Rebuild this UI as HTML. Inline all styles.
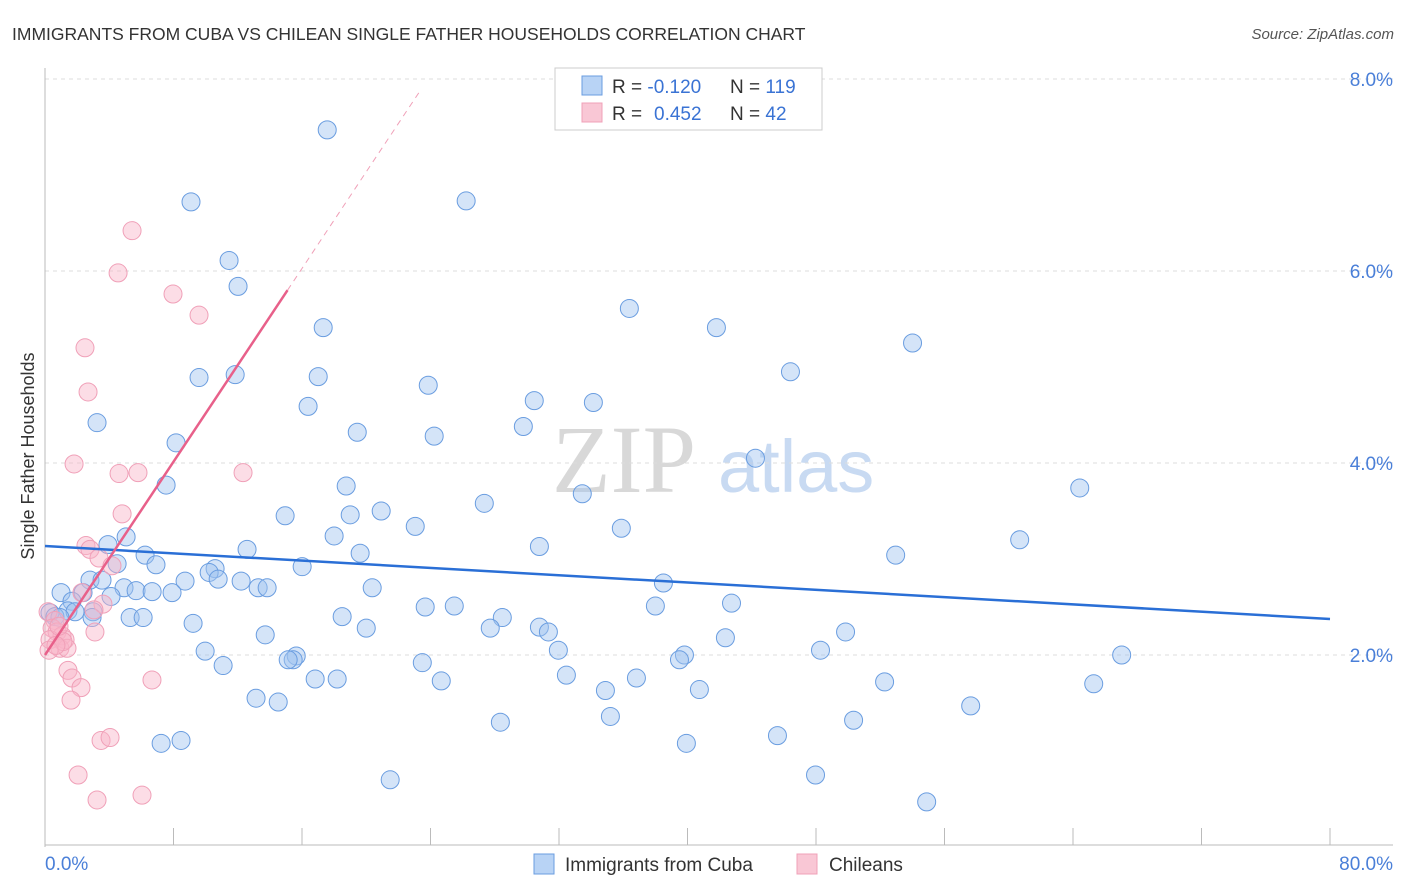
<!DOCTYPE html>
<html><head><meta charset="utf-8"><style>
body{margin:0;background:#fff;font-family:"Liberation Sans",sans-serif;}
svg{display:block}
</style></head><body>
<svg id="chart" width="1406" height="892" viewBox="0 0 1406 892" xmlns="http://www.w3.org/2000/svg">
<text x="12" y="40" font-size="17.5" fill="#333">IMMIGRANTS FROM CUBA VS CHILEAN SINGLE FATHER HOUSEHOLDS CORRELATION CHART</text>
<text x="1394" y="39" font-size="15" fill="#555" font-style="italic" text-anchor="end">Source: ZipAtlas.com</text>
<text transform="translate(34,456) rotate(-90)" font-size="18" fill="#333" text-anchor="middle">Single Father Households</text>
<g>
<text x="552" y="492" font-size="96" font-family="Liberation Serif,serif" fill="#d8d8d8">ZIP</text>
<text x="718" y="492" font-size="74" fill="#c8daf2">atlas</text>
</g>
<g id="grid"></g>
<g id="axes"></g>
<g id="pts"></g>
<g id="trends"></g>
<g>
<rect x="555" y="68" width="267" height="62" fill="#fff" stroke="#ccc"/>
<rect x="582" y="76" width="20" height="19" fill="#b8d3f5" stroke="#6a9de0"/>
<rect x="582" y="103" width="20" height="19" fill="#f9c7d5" stroke="#f0a0b8"/>
<text x="612" y="93" font-size="19" fill="#333">R = <tspan fill="#3a73d4">-0.120</tspan><tspan x="730">N = </tspan><tspan fill="#3a73d4">119</tspan></text>
<text x="612" y="120" font-size="19" fill="#333">R = <tspan x="654" fill="#3a73d4">0.452</tspan><tspan x="730">N = </tspan><tspan fill="#3a73d4">42</tspan></text>
</g>
<g>
<rect x="534" y="854" width="20" height="20" fill="#b8d3f5" stroke="#6a9de0"/>
<text x="565" y="871" font-size="19" fill="#333">Immigrants from Cuba</text>
<rect x="797" y="854" width="20" height="20" fill="#f9c7d5" stroke="#f0a0b8"/>
<text x="829" y="871" font-size="19" fill="#333">Chileans</text>
</g>
</svg>
<script>
const blueX=[17.57,9.09,26.22,11.46,12.02,36.38,17.32,41.80,54.01,9.59,11.84,17.01,23.86,46.41,16.38,30.46,34.14,3.24,19.44,24.23,29.78,8.16,44.23,7.54,18.75,64.42,33.45,27.35,19.00,20.93,14.95,23.05,35.88,5.05,18.00,60.68,30.78,3.92,12.58,6.23,19.62,52.96,6.91,16.01,4.49,10.59,10.22,2.80,3.55,10.78,12.21,8.72,38.50,13.27,13.83,20.37,4.92,5.67,6.67,7.91,1.00,2.37,4.11,1.68,42.74,23.67,25.48,38.00,1.43,2.99,1.87,0.31,0.62,0.93,2.93,5.30,6.11,18.50,28.47,9.22,27.72,30.78,20.00,31.34,49.84,13.71,42.36,31.96,9.97,39.81,48.28,67.03,15.64,15.45,15.14,39.50,23.49,11.09,32.46,16.82,18.19,24.67,36.82,52.27,65.29,34.89,40.74,13.14,14.52,57.63,35.20,28.35,50.34,45.60,8.47,7.23,39.93,47.97,21.49,54.89];
const blueY=[7.47,6.72,6.73,6.11,5.84,5.61,5.41,5.41,5.25,4.89,4.92,4.90,4.81,4.95,4.59,4.65,4.63,4.42,4.32,4.28,4.38,4.21,4.05,3.77,3.76,3.74,3.68,3.58,3.46,3.50,3.45,3.34,3.32,3.23,3.24,3.20,3.13,3.15,3.10,3.04,3.06,3.04,2.94,2.92,2.95,2.90,2.86,2.78,2.78,2.79,2.77,2.77,2.75,2.70,2.70,2.70,2.70,2.67,2.66,2.65,2.65,2.65,2.61,2.56,2.54,2.50,2.51,2.51,2.46,2.45,2.45,2.44,2.40,2.39,2.39,2.39,2.39,2.40,2.39,2.33,2.28,2.29,2.28,2.24,2.24,2.21,2.18,2.05,2.04,2.00,2.05,2.00,1.99,1.95,1.95,1.95,1.92,1.89,1.79,1.75,1.75,1.73,1.76,1.72,1.70,1.63,1.64,1.55,1.51,1.47,1.36,1.30,1.32,1.16,1.11,1.08,1.08,0.75,0.70,0.47];
const pinkX=[5.42,4.55,7.97,9.59,2.49,2.68,1.81,4.61,5.79,12.33,4.80,2.55,2.80,3.36,4.17,2.30,3.61,3.05,0.19,0.62,0.44,0.75,1.06,1.25,0.31,0.93,1.37,3.11,1.43,1.68,2.24,1.62,6.66,3.49,4.05,2.06,3.24,6.04,1.12,0.87,0.25,0.68];
const pinkY=[6.42,5.98,5.76,5.54,5.20,4.74,3.99,3.89,3.90,3.90,3.47,3.14,3.10,3.01,2.93,2.65,2.53,2.47,2.45,2.36,2.28,2.24,2.20,2.16,2.16,2.07,2.07,2.24,1.84,1.76,1.66,1.53,1.74,1.11,1.14,0.75,0.49,0.54,2.14,2.30,2.05,2.10];
const yTicks=[2,4,6,8];
const yTickLabels=["2.0%","4.0%","6.0%","8.0%"];
const xTickCount=10;
const blueTrend=[3.135,2.375];
const pinkTrend=[2.0,5.8];
const pinkSolidEnd=15.1, pinkDashEnd=23.35;

const NS="http://www.w3.org/2000/svg";
const X0=45,X1=1330,Y0=847;
const sx=v=>X0+(X1-X0)*v/80;
const sy=v=>Y0-96*v;
function mk(tag,attrs,parent){const e=document.createElementNS(NS,tag);for(const k in attrs)e.setAttribute(k,attrs[k]);parent.appendChild(e);return e;}
const grid=document.getElementById('grid'),axes=document.getElementById('axes'),pts=document.getElementById('pts'),tr=document.getElementById('trends');
yTicks.forEach((t,i)=>{
 const l=mk('line',{x1:X0,x2:1393,y1:sy(t),y2:sy(t),stroke:'#ddd','stroke-dasharray':'4,4'},grid);
 
 
 const tx=mk('text',{x:1393,y:sy(t)+7,'font-size':19,fill:'#4a7fd8','text-anchor':'end'},axes);
 tx.textContent=yTickLabels[i];
 
 
});
const topGrid=mk('line',{x1:X0,x2:1393,y1:79,y2:79,stroke:'#ddd','stroke-dasharray':'4,4'},grid);


const ya=mk('line',{x1:X0,x2:X0,y1:68,y2:Y0,stroke:'#bbb'},axes);


const xa=mk('line',{x1:X0,x2:1393,y1:845,y2:845,stroke:'#bbb'},axes);


for(let i=0;i<=xTickCount;i++){
 const tk=mk('line',{x1:sx(i*8),x2:sx(i*8),y1:828,y2:845,stroke:'#bbb'},axes);
 
 
}
const xl0=mk('text',{x:45,y:870,'font-size':19,fill:'#4a7fd8'},axes);xl0.textContent='0.0%';


const xl1=mk('text',{x:1393,y:870,'font-size':19,fill:'#4a7fd8','text-anchor':'end'},axes);xl1.textContent='80.0%';


blueX.forEach((x,i)=>{
 const c=mk('circle',{cx:sx(x),cy:sy(blueY[i]),r:9,fill:'rgba(160,196,240,0.45)',stroke:'#6a9de0','stroke-width':1},pts);
 
 
});
pinkX.forEach((x,i)=>{
 const c=mk('circle',{cx:sx(x),cy:sy(pinkY[i]),r:9,fill:'rgba(248,180,200,0.45)',stroke:'#f0a0b8','stroke-width':1},pts);
 
 
});
const bt=mk('line',{x1:sx(0),y1:sy(blueTrend[0]),x2:sx(80),y2:sy(blueTrend[1]),stroke:'#2a6fd6','stroke-width':2.5},tr);


const slope=(pinkTrend[1]-pinkTrend[0])/pinkSolidEnd;
const pt=mk('line',{x1:sx(0),y1:sy(pinkTrend[0]),x2:sx(pinkSolidEnd),y2:sy(pinkTrend[1]),stroke:'#e8608a','stroke-width':2.5},tr);


const pd=mk('line',{x1:sx(pinkSolidEnd),y1:sy(pinkTrend[1]),x2:sx(pinkDashEnd),y2:sy(pinkTrend[0]+slope*pinkDashEnd),stroke:'#f0a0b8','stroke-width':1,'stroke-dasharray':'6,5'},tr);


</script>
</body></html>
